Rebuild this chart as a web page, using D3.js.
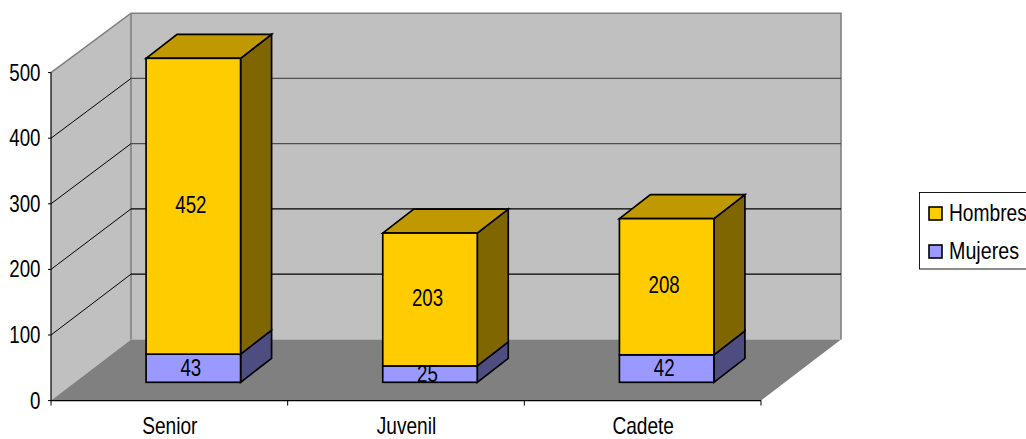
<!DOCTYPE html>
<html><head><meta charset="utf-8">
<script src="https://cdn.jsdelivr.net/npm/d3@7"></script>
<style>html,body{margin:0;padding:0;background:#fff;overflow:hidden}svg{display:block}
text{font-family:"Liberation Sans",Arial,sans-serif;fill:#000}</style>
</head><body><svg id="c" width="1026" height="439"></svg>
<script>
const categories = ["Senior","Juvenil","Cadete"];
const mujeres = [43,25,42];
const hombres = [452,203,208];
const yTicks = [0,100,200,300,400,500];
const seriesNames = ["Hombres","Mujeres"];
const colors = {Hombres:{front:"#ffcc00",top:"#c09900",side:"#806600"},Mujeres:{front:"#9999ff",top:"#7373c0",side:"#4d4d80"}};

const svg = d3.select("#c");
const x0=51,x1=761,yB=400.6,yT=72.6,dx=80;
const y = d3.scaleLinear().domain([0,500]).range([yB,yT]);
const yBack = d3.scaleLinear().domain([0,500]).range([339.4,13.2]);
const yBar = d3.scaleLinear().domain([0,495]).range([382.3,58.3]);
const band = d3.scaleBand().domain(categories).range([x0,x1]);
const xb0=x0+dx,xb1=x1+dx;
const poly=(pts,fill,stroke,sw)=>svg.append("polygon").attr("points",pts.map(p=>p.join(",")).join(" ")).attr("fill",fill).attr("stroke",stroke||"none").attr("stroke-width",sw||0).attr("stroke-linejoin","miter");
const txt=(s,xx,yy,size,sx,anchor)=>svg.append("text").attr("transform",`translate(${xx},${yy}) scale(${sx},1)`).attr("text-anchor",anchor||"middle").attr("font-size",size).text(s);

// walls & floor
poly([[x0,y(500)],[xb0,yBack(500)],[xb0,yBack(0)],[x0,y(0)]],"#c0c0c0");
poly([[xb0,yBack(500)],[xb1,yBack(500)],[xb1,yBack(0)],[xb0,yBack(0)]],"#c0c0c0");
poly([[x0,y(0)],[xb0,yBack(0)],[xb1,yBack(0)],[x1,y(0)]],"#808080");
svg.append("path").attr("d",`M${x0},${y(500)}L${xb0},${yBack(500)}L${xb1},${yBack(500)}L${xb1},${yBack(0)}`).attr("fill","none").attr("stroke","#808080").attr("stroke-width",1.6);
svg.append("line").attr("x1",xb0).attr("x2",xb0).attr("y1",yBack(500)).attr("y2",yBack(0)).attr("stroke","#808080").attr("stroke-width",1.6);

// gridlines
yTicks.filter(t=>t>0&&t<500).forEach(t=>{
  svg.append("line").attr("x1",x0).attr("y1",y(t)).attr("x2",xb0).attr("y2",yBack(t)).attr("stroke","#000").attr("stroke-width",1);
  svg.append("line").attr("x1",xb0).attr("y1",yBack(t)).attr("x2",xb1).attr("y2",yBack(t)).attr("stroke",t>=300?"#505050":"#000").attr("stroke-width",1.2);
});

// axes
svg.append("line").attr("x1",x0).attr("x2",x0).attr("y1",y(500)).attr("y2",y(0)).attr("stroke","#000").attr("stroke-width",1.2);
svg.append("line").attr("x1",x0).attr("x2",x1).attr("y1",y(0)).attr("y2",y(0)).attr("stroke","#000").attr("stroke-width",1.2);
yTicks.forEach(t=>{
  svg.append("line").attr("x1",x0-3).attr("x2",x0).attr("y1",y(t)).attr("y2",y(t)).attr("stroke","#000");
  txt(t,40.5,y(t)+8,24,0.78,"end");
});
categories.forEach((c,i)=>{
  const xt=band(c);
  svg.append("line").attr("x1",xt).attr("x2",xt).attr("y1",yB).attr("y2",yB+5).attr("stroke","#000");
  if(i==2) svg.append("line").attr("x1",x1).attr("x2",x1).attr("y1",yB).attr("y2",yB+5).attr("stroke","#000");
  txt(c,band(c)+band.bandwidth()/2+0.5,433.5,23,0.83);
});

// bars
const barW=94.5, shift=24, bdx=31, bdy=-24;
categories.forEach((c,i)=>{
  const xl=band(c)+band.bandwidth()/2+shift-barW/2, xr=xl+barW;
  const segs=[["Mujeres",0,mujeres[i]],["Hombres",mujeres[i],hombres[i]]];
  segs.forEach(([n,start,val],k)=>{
    const yb=yBar(start), yt=yBar(start+val), col=colors[n];
    poly([[xr,yb],[xr+bdx,yb+bdy],[xr+bdx,yt+bdy],[xr,yt]],col.side,"#000",1.7);
    if(k==1) poly([[xl,yt],[xl+bdx,yt+bdy],[xr+bdx,yt+bdy],[xr,yt]],col.top,"#000",1.7);
    svg.append("rect").attr("x",xl).attr("y",yt).attr("width",barW).attr("height",yb-yt).attr("fill",col.front).attr("stroke","#000").attr("stroke-width",1.7);
  });
  segs.forEach(([n,start,val],k)=>{
    const yb=yBar(start), yt=yBar(start+val);
    txt(val,(xl+xr)/2-2.5,(yb+yt)/2+(k?6.5:7.5),24,0.78);
  });
});

// legend
svg.append("rect").attr("x",919.5).attr("y",192.5).attr("width",120).attr("height",76.5).attr("fill","#fff").attr("stroke","#000").attr("stroke-width",0.9);
seriesNames.forEach((n,i)=>{
  const ly=207+i*38;
  svg.append("rect").attr("x",929).attr("y",ly).attr("width",13).attr("height",13).attr("fill",colors[n].front).attr("stroke","#000").attr("stroke-width",1.6);
  txt(n,949,ly+14,24,n=="Hombres"?0.8:0.82,"start");
});
</script></body></html>
